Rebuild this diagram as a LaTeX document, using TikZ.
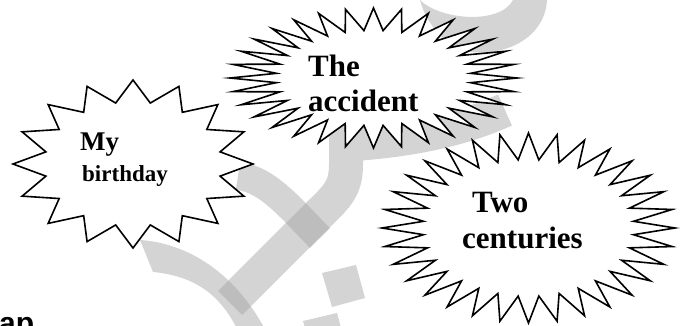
\documentclass[tikz,border=0pt]{standalone}
\usepackage{fontspec}
\setmainfont{Liberation Serif}
\setsansfont{Liberation Sans}
\usetikzlibrary{calc}

\definecolor{wmlight}{gray}{0.83}
\definecolor{wmdark}{gray}{0.74}

% centre x, centre y, radius x, radius y, points, inner ratio
\newcommand{\burst}[6]{%
  \pgfmathsetmacro{\bstep}{180/#5}
  \pgfmathtruncatemacro{\blast}{#5-1}
  \filldraw[burstline] (#1,{#2-#4})
    \foreach \k in {1,...,\blast} {
      -- ({#1+#6*#3*cos(-90+(2*\k-1)*\bstep)},{#2+#6*#4*sin(-90+(2*\k-1)*\bstep)})
      -- ({#1+#3*cos(-90+2*\k*\bstep)},{#2+#4*sin(-90+2*\k*\bstep)})
    }
    -- ({#1+#6*#3*cos(270-\bstep)},{#2+#6*#4*sin(270-\bstep)}) -- cycle;
}

\begin{document}
\begin{tikzpicture}[x=1pt, y=-1pt,
  burstline/.style={draw=black, fill=white, line width=1.6pt},
  wmband/.style={draw=wmlight, line width=#1},
  word/.style={anchor=base west, inner sep=0pt, font=\bfseries\fontsize{31}{35}\selectfont}]
  \useasboundingbox (0,0) rectangle (683,326);

  % watermark
  \fill[wmlight] (420,0) .. controls (440,20) and (500,25) .. (513,0) -- (547,0)
    .. controls (545,40) and (500,60) .. (460,50) .. controls (440,40) and (425,20) .. (420,0) -- cycle;
  \draw[wmband=34] (230,303) -- (318,215) .. controls (335,198) and (346,190) .. (346,165) -- (346,110);
  \draw[wmband=34] (340,145) .. controls (390,142) and (450,135) .. (505,110);
  \draw[wmband=28] (238,176) .. controls (268,179) and (292,210) .. (320,238);
  \fill[wmlight] (140,240) .. controls (185,243) and (235,270) .. (268,335) -- (240,335)
    .. controls (222,295) and (195,276) .. (153,272) -- cycle;
  \fill[wmlight] (322,273) -- (356,265) -- (365,298) -- (332,307) -- cycle;
  \fill[wmlight] (303,321) -- (337,313) -- (346,346) -- (312,354) -- cycle;
  \begin{scope}
    \clip (218,291) -- (242,315) -- (334,223) -- (310,199) -- cycle;
    \draw[wmband=28, draw=wmdark] (238,176) .. controls (268,179) and (292,210) .. (320,238);
    \fill[wmdark] (140,240) .. controls (185,243) and (235,270) .. (268,335) -- (240,335)
      .. controls (222,295) and (195,276) .. (153,272) -- cycle;
  \end{scope}

  % bursts
  \burst{133}{164}{120}{84}{16}{0.74}
  \burst{528.5}{228}{146.5}{95}{32}{0.72}
  \burst{373.5}{78}{143.5}{70}{32}{0.68}

  \node[word, font=\bfseries\fontsize{27}{30}\selectfont] (my) at (80,150) {My};
  \node[word, font=\bfseries\fontsize{23}{26}\selectfont] (birthday) at (82,182) {birthday};
  \node[word] (the) at (308,77) {The};
  \node[word] (accident) at (308,112) {accident};
  \node[word] (two) at (472,212) {Two};
  \node[word] (centuries) at (462,248) {centuries};

  \node[anchor=base west, inner sep=0pt, font=\sffamily\bfseries\fontsize{30}{30}\selectfont] (ap) at (-1,333) {ap};
\end{tikzpicture}
\end{document}
